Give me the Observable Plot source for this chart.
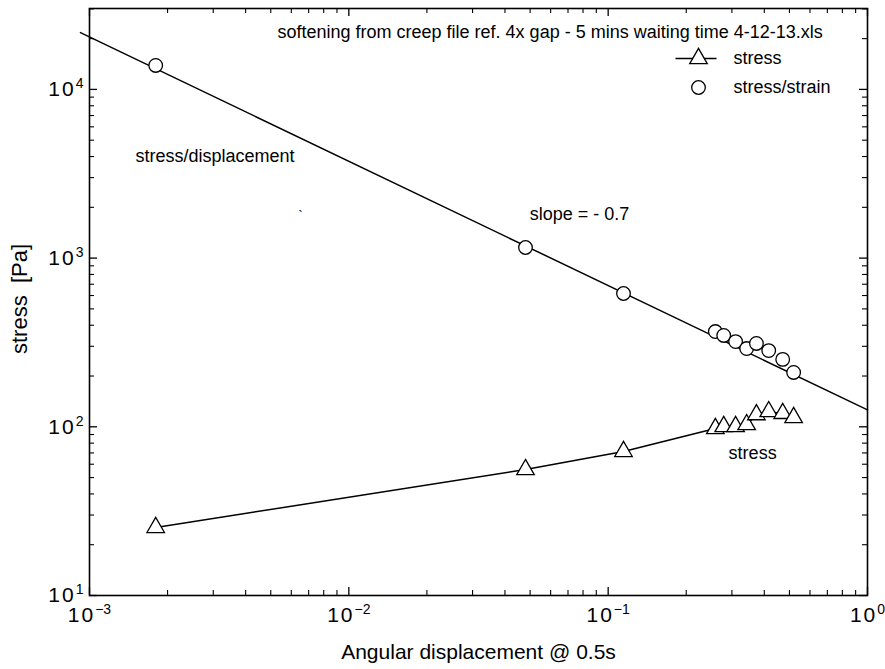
<!DOCTYPE html>
<html><head><meta charset="utf-8">
<script src="https://cdn.jsdelivr.net/npm/d3@7"></script>
<script src="https://cdn.jsdelivr.net/npm/@observablehq/plot@0.6"></script>
<style>html,body{margin:0;padding:0;background:#fff} svg{display:block}</style>
</head><body><div id="chart"></div>
<script>
// ---- data ----
const displacement    = [0.0018, 0.048, 0.1146, 0.259, 0.279, 0.310, 0.342, 0.373, 0.416, 0.471, 0.519];
const stress          = [25.3, 55.8, 71.4, 97.7, 100.4, 100.4, 103, 118, 123, 120, 113.5];
const stressPerStrain = [13870, 1156, 617, 367, 348, 320, 291, 312, 283, 251, 210];
const fitX = [0.000923, 1];
const fitY = [21700, 126];

const xMajor = [1e-3, 1e-2, 1e-1, 1];
const yMajor = [1e1, 1e2, 1e3, 1e4];
const xTickLabels = ["10|\u22123", "10|\u22122", "10|\u22121", "10|0"];
const yTickLabels = ["10|1", "10|2", "10|3", "10|4"];
const xMinor = [1e-3, 1e-2, 1e-1].flatMap(d => [2,3,4,5,6,7,8,9].map(k => k * d));
const yMinor = [1e1, 1e2, 1e3, 1e4].flatMap(d => [2,3,4,5,6,7,8,9].map(k => k * d)).filter(v => v <= 30000);

const titleText = "softening from creep file ref. 4x gap - 5 mins waiting time 4-12-13.xls";
const legendLabels = ["stress", "stress/strain"];
const annotations = [
  {x: 0.001504, y: 4000, text: "stress/displacement", anchor: "start"},
  {x: 0.0498, y: 1811, text: "slope = - 0.7", anchor: "start"},
  {x: 0.3606, y: 69.5, text: "stress", anchor: "middle"}
];
const stray = [{x: 0.00652, y: 1760, text: "`"}];

const rows = displacement.map((d, i) => ({d, stress: stress[i], sps: stressPerStrain[i]}));
const fit = fitX.map((x, i) => ({x, y: fitY[i]}));

// ---- layout ----
const W = 885, H = 669, mL = 89, mR = 18, mT = 8, mB = 74;
const pW = W - mL - mR, pH = H - mT - mB;
const font = '"Liberation Sans", Arial, Helvetica, sans-serif';
const lineSym = {draw(ctx) { ctx.moveTo(-23, 0); ctx.lineTo(18, 0); }};

const chart = Plot.plot({
  width: W, height: H,
  marginLeft: mL, marginRight: mR, marginTop: mT, marginBottom: mB,
  x: {type: "log", domain: [1e-3, 1], axis: null},
  y: {type: "log", domain: [10, Math.pow(10, 4.4796)], axis: null},
  style: {fontFamily: font, fontSize: "18px", background: "white", color: "black"},
  marks: [
    // ticks (inward, all four sides)
    Plot.tickX(xMajor, {x: d => d, insetTop: pH - 8, stroke: "black", strokeWidth: 1.3}),
    Plot.tickX(xMinor, {x: d => d, insetTop: pH - 5, stroke: "black", strokeWidth: 1.1}),
    Plot.tickX(xMajor, {x: d => d, insetBottom: pH - 8, stroke: "black", strokeWidth: 1.3}),
    Plot.tickX(xMinor, {x: d => d, insetBottom: pH - 5, stroke: "black", strokeWidth: 1.1}),
    Plot.tickY(yMajor, {y: d => d, insetRight: pW - 8, stroke: "black", strokeWidth: 1.3}),
    Plot.tickY(yMinor, {y: d => d, insetRight: pW - 5, stroke: "black", strokeWidth: 1.1}),
    Plot.tickY(yMajor, {y: d => d, insetLeft: pW - 8, stroke: "black", strokeWidth: 1.3}),
    Plot.tickY(yMinor, {y: d => d, insetLeft: pW - 5, stroke: "black", strokeWidth: 1.1}),
    Plot.frame({stroke: "black", strokeWidth: 1.6}),
    // tick labels
    Plot.text(xMajor, {x: d => d, frameAnchor: "bottom", dy: 20, text: (d, i) => xTickLabels[i],
      textAnchor: "middle", lineAnchor: "middle", fontSize: 21}),
    Plot.text(yMajor, {y: d => d, frameAnchor: "left", dx: -6, text: (d, i) => yTickLabels[i],
      textAnchor: "end", lineAnchor: "middle", fontSize: 21}),
    // axis titles
    Plot.text(["Angular displacement @ 0.5s"], {frameAnchor: "bottom", dy: 57, textAnchor: "middle", lineAnchor: "middle", fontSize: 21}),
    Plot.text(["stress\u00a0\u00a0[Pa]"], {frameAnchor: "left", dx: -70, dy: -3, rotate: -90, textAnchor: "middle", lineAnchor: "middle", fontSize: 22}),
    // fit line and data
    Plot.line(fit, {x: "x", y: "y", stroke: "black", strokeWidth: 1.5}),
    Plot.line(rows, {x: "d", y: "stress", stroke: "black", strokeWidth: 1.5}),
    Plot.dot(rows, {x: "d", y: "stress", symbol: "triangle", r: 6.5, fill: "white", stroke: "black", strokeWidth: 1.3}),
    Plot.dot(rows, {x: "d", y: "sps", r: 6.8, fill: "white", stroke: "black", strokeWidth: 1.3}),
    // annotations
    Plot.text(annotations.filter(a => a.anchor === "start"), {x: "x", y: "y", text: "text", textAnchor: "start", lineAnchor: "middle", fontSize: 18}),
    Plot.text(annotations.filter(a => a.anchor === "middle"), {x: "x", y: "y", text: "text", textAnchor: "middle", lineAnchor: "middle", fontSize: 18}),
    Plot.text(stray, {x: "x", y: "y", text: "text", lineAnchor: "middle", fontSize: 14}),
    // title
    Plot.text([titleText], {frameAnchor: "top-left", dx: 188, dy: 24, textAnchor: "start", lineAnchor: "middle", fontSize: 18}),
    // legend
    Plot.dot([0], {frameAnchor: "top-left", dx: 609, dy: 50, symbol: lineSym, stroke: "black", strokeWidth: 1.5}),
    Plot.dot([0], {frameAnchor: "top-left", dx: 609, dy: 50, symbol: "triangle", r: 6.5, fill: "white", stroke: "black", strokeWidth: 1.3}),
    Plot.dot([0], {frameAnchor: "top-left", dx: 609, dy: 79, r: 6.8, fill: "white", stroke: "black", strokeWidth: 1.3}),
    Plot.text([legendLabels[0]], {frameAnchor: "top-left", dx: 644, dy: 50, textAnchor: "start", lineAnchor: "middle", fontSize: 18}),
    Plot.text([legendLabels[1]], {frameAnchor: "top-left", dx: 644, dy: 79, textAnchor: "start", lineAnchor: "middle", fontSize: 18})
  ]
});

// superscript exponents on tick labels
d3.select(chart).selectAll("text").each(function() {
  const s = this.textContent;
  if (s.indexOf("|") < 0) return;
  const [base, exp] = s.split("|");
  const t = d3.select(this);
  t.selectAll("*").remove();
  t.text(null);
  t.append("tspan").attr("letter-spacing", "2px").text(base);
  t.append("tspan").attr("font-size", 14).attr("dy", -8).text(exp);
});

document.getElementById("chart").appendChild(chart);
</script>
</body></html>
